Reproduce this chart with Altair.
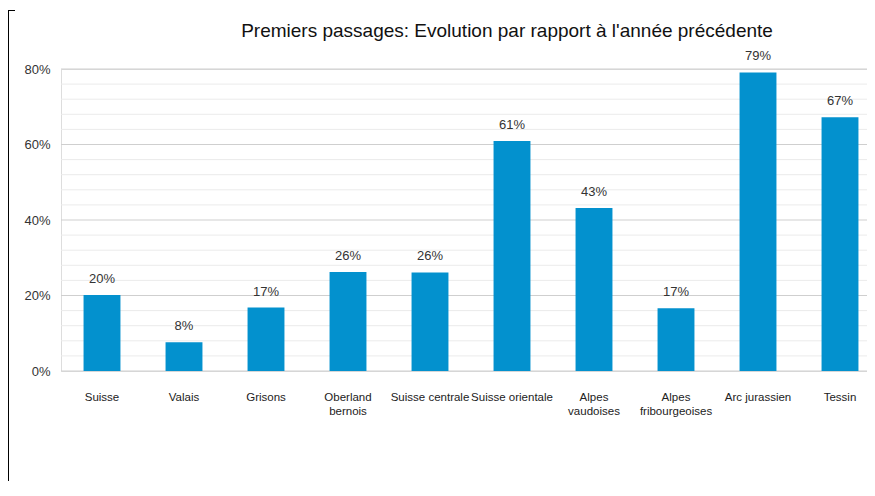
import altair as alt
import pandas as pd

regions = ["Suisse", "Valais", "Grisons", "Oberland bernois", "Suisse centrale",
           "Suisse orientale", "Alpes vaudoises", "Alpes fribourgeoises",
           "Arc jurassien", "Tessin"]
changes = [0.201, 0.076, 0.168, 0.262, 0.261, 0.609, 0.432, 0.166, 0.791, 0.672]
major_ticks = [0.0, 0.2, 0.4, 0.6, 0.8]
minor_ticks = [0.04, 0.08, 0.12, 0.16, 0.24, 0.28, 0.32, 0.36,
               0.44, 0.48, 0.52, 0.56, 0.64, 0.68, 0.72, 0.76]
two_line = ["Oberland bernois", "Alpes vaudoises", "Alpes fribourgeoises"]

df = pd.DataFrame({"region": regions, "change": changes})
major_df = pd.DataFrame({"v": major_ticks})
minor_df = pd.DataFrame({"v": minor_ticks})

FONT = "Liberation Sans"
BAR = "#0391CE"

yscale = alt.Scale(domain=[0, 0.8], nice=False)
yaxis = alt.Axis(values=major_ticks, format=".0%", ticks=False, domain=False,
                 grid=False, labelPadding=11, labelFont=FONT, labelFontSize=13,
                 labelColor="#333333")

x = alt.X("region:N", sort=regions, title=None,
          scale=alt.Scale(range=[0, 820], paddingInner=0.55, paddingOuter=0.275),
          axis=alt.Axis(labelAngle=0, ticks=False, domain=False, labelPadding=20,
                        labelFont=FONT, labelFontSize=11.5, labelColor="#222222",
                        labelLineHeight=14, labelBaseline="top", labelOverlap=False,
                        labelExpr="indexof(" + str(two_line) + ", datum.label) >= 0 ? split(datum.label, ' ') : datum.label"))

minor = alt.Chart(minor_df).mark_rule(color="#ebebeb", strokeWidth=1).encode(
    y=alt.Y("v:Q", scale=yscale, axis=yaxis, title=None))
major = alt.Chart(major_df).mark_rule(color="#cfcfcf", strokeWidth=1).encode(
    y=alt.Y("v:Q", scale=yscale, axis=yaxis, title=None))

base = alt.Chart(df)
bars = base.mark_bar(color=BAR).encode(
    x=x, y=alt.Y("change:Q", scale=yscale, axis=yaxis, title=None))
labels = base.mark_text(baseline="bottom", dy=-9, font=FONT, fontSize=13,
                        color="#333333").encode(
    x=alt.X("region:N", sort=regions), y="change:Q",
    text=alt.Text("change:Q", format=".0%"))

border_v = base.mark_rule(color="#000000", strokeWidth=1).encode(
    x=alt.value(-52.5), y=alt.value(-59), y2=alt.value(420))
border_h = base.mark_rule(color="#000000", strokeWidth=1).encode(
    x=alt.value(-53), x2=alt.value(-46), y=alt.value(-58.5))

chart = alt.layer(minor, major, bars, labels, border_v, border_h).properties(
    width=806, height=302,
    title=alt.TitleParams("Premiers passages: Evolution par rapport à l'année précédente",
                          font=FONT, fontSize=19, fontWeight="normal", color="#111111",
                          anchor="middle", dx=43, offset=-31),
    autosize=alt.AutoSizeParams(type="none"),
    padding={"left": 53, "top": 61, "right": 0, "bottom": 110},
).configure_view(stroke=None).configure(background="white")

chart.save("out.html", embed_options={"renderer": "svg", "actions": False})
